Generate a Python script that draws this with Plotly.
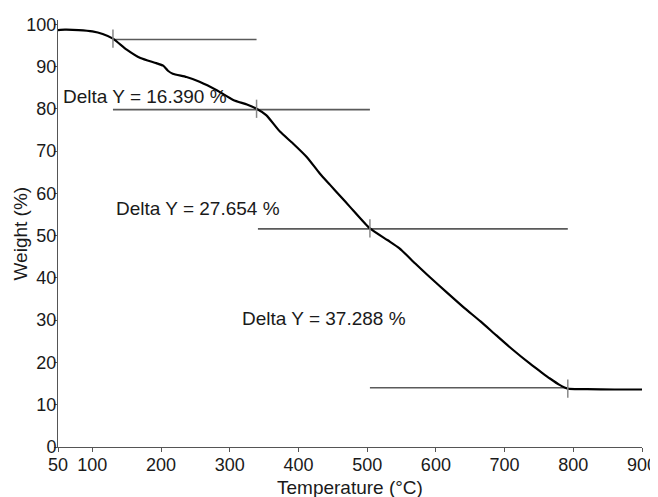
import plotly.graph_objects as go

# TGA curve
temperature = [50, 60, 80, 100, 115, 130, 150, 170, 193, 203, 210, 217, 237, 256, 281, 305, 325,
               339, 353, 373, 392, 412, 431, 446, 460, 475, 504, 530, 547, 570, 591, 615, 640,
               665, 688, 712, 737, 755, 766, 780, 792, 820, 860, 900]
weight = [98.6, 98.7, 98.6, 98.3, 97.7, 96.6, 94.0, 92.0, 90.8, 90.2, 89.0, 88.3, 87.5, 86.4, 84.4,
          82.1, 81.0, 80.0, 78.5, 74.6, 71.8, 68.6, 64.7, 62.0, 59.5, 56.8, 51.7, 48.9, 47.0, 43.4,
          40.2, 36.7, 33.1, 29.7, 26.4, 23.0, 19.7, 17.5, 16.2, 14.7, 13.8, 13.7, 13.6, 13.6]

# Step construction lines
step_start = [130, 130, 341, 504]
step_end = [339, 504, 792, 792]
step_level = [96.4, 79.8, 51.6, 14.0]

# Onset markers
marker_t = [130, 339, 504, 792]
marker_w = [96.6, 80.0, 51.7, 13.8]

# Delta Y labels
delta_text = ["Delta Y = 16.390 %", "Delta Y = 27.654 %", "Delta Y = 37.288 %"]
delta_x = [55, 132, 315]
delta_y = [82.8, 56.4, 30.4]

x_ticks = [50, 100, 200, 300, 400, 500, 600, 700, 800, 900]
y_ticks = [0, 10, 20, 30, 40, 50, 60, 70, 80, 90, 100]

FONT = "Liberation Sans, Arial, sans-serif"
W, H = 650, 489          # page adds an 8px body margin
ML, MR, MT, MB = 50, 16, 12, 50
PW, PH = W - ML - MR, H - MT - MB

fig = go.Figure()

for s, e, lv in zip(step_start, step_end, step_level):
    fig.add_trace(go.Scatter(x=[s, e], y=[lv, lv], mode="lines",
                             line=dict(color="#5a5a5a", width=1.6),
                             showlegend=False, hoverinfo="skip"))

fig.add_trace(go.Scatter(x=temperature, y=weight, mode="lines",
                         line=dict(color="#000000", width=2.2, shape="spline", smoothing=0.6),
                         showlegend=False))

fig.add_trace(go.Scatter(x=marker_t, y=marker_w, mode="markers",
                         marker=dict(symbol="line-ns", size=13,
                                     line=dict(color="#888888", width=1.5)),
                         showlegend=False))

for t, xx, yy in zip(delta_text, delta_x, delta_y):
    fig.add_annotation(x=xx, y=yy, text=t, showarrow=False, xanchor="left", yanchor="middle",
                       font=dict(family=FONT, size=19, color="#1a1a1a"))

# axis titles placed as annotations for exact positioning
fig.add_annotation(xref="paper", yref="paper", x=(12 - ML) / PW, y=0.5,
                   text="Weight (%)", textangle=-90, showarrow=False,
                   xanchor="center", yanchor="middle",
                   font=dict(family=FONT, size=19, color="#1a1a1a"))
fig.add_annotation(xref="paper", yref="paper", x=0.5, y=-(480 - (H - MB)) / PH,
                   text="Temperature (°C)", showarrow=False,
                   xanchor="center", yanchor="middle",
                   font=dict(family=FONT, size=19, color="#1a1a1a"))

fig.update_layout(
    width=W, height=H,
    margin=dict(l=ML, r=MR, t=MT, b=MB),
    paper_bgcolor="white", plot_bgcolor="white",
    font=dict(family=FONT, color="#1a1a1a"),
    xaxis=dict(range=[50, 900], tickvals=x_ticks, ticks="outside", ticklen=4,
               tickcolor="#555", showline=True, linecolor="#555", linewidth=1,
               showgrid=False, zeroline=False, tickfont=dict(size=18), automargin=False,
               ticklabelstandoff=-3),
    yaxis=dict(range=[0, 101], tickvals=y_ticks, ticks="outside", ticklen=3,
               tickcolor="#555", showline=True, linecolor="#555", linewidth=1,
               showgrid=False, zeroline=False, tickfont=dict(size=18), automargin=False,
               ticklabelstandoff=-6),
)

fig.write_html("out.html")
